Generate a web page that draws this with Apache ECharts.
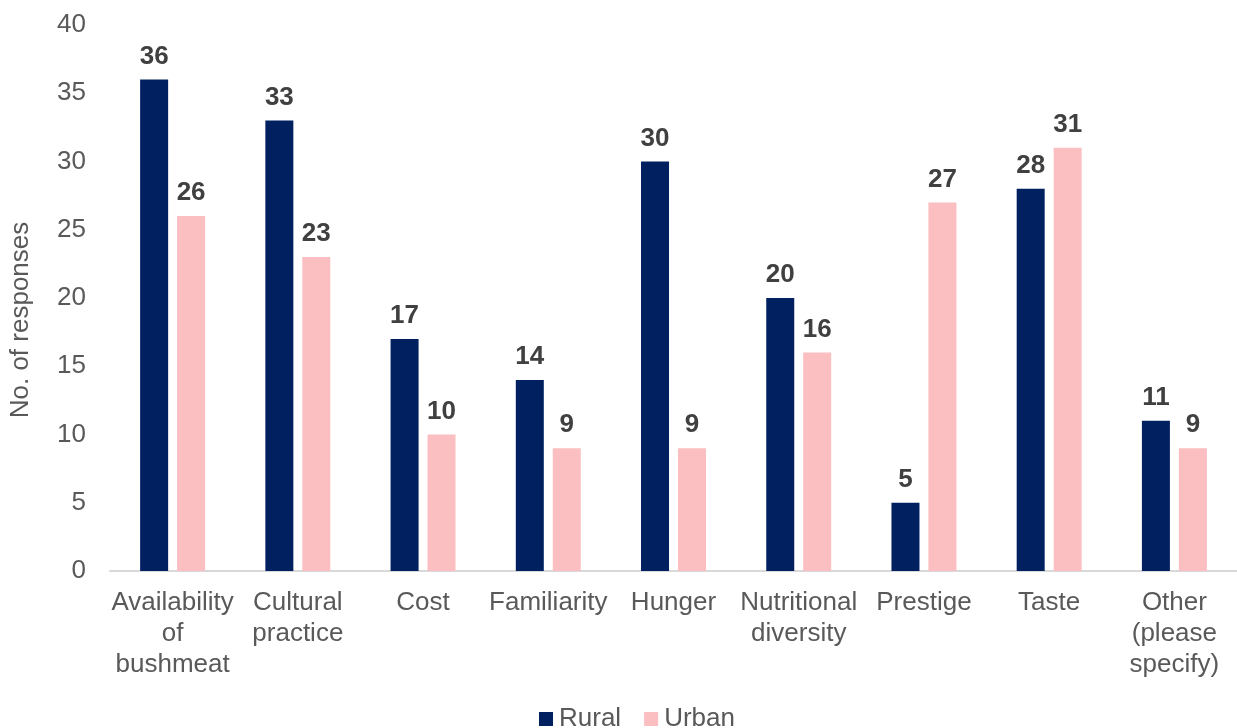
<!DOCTYPE html>
<html>
<head>
<meta charset="utf-8">
<script src="https://cdn.jsdelivr.net/npm/echarts@6/dist/echarts.min.js"></script>
<style>
html, body { margin: 0; padding: 0; background: #fff; }
#main { width: 1237px; height: 728px; }
</style>
</head>
<body>
<div id="main"></div>
<script>
var categories = ['Availability\nof\nbushmeat', 'Cultural\npractice', 'Cost', 'Familiarity', 'Hunger', 'Nutritional\ndiversity', 'Prestige', 'Taste', 'Other\n(please\nspecify)'];
var rural = [36, 33, 17, 14, 30, 20, 5, 28, 11];
var urban = [26, 23, 10, 9, 9, 16, 27, 31, 9];

var myChart = echarts.init(document.getElementById('main'));
var labelStyle = {
    show: true,
    position: 'top',
    distance: 10,
    color: '#404040',
    fontWeight: 'bold',
    fontSize: 26,
    fontFamily: 'Liberation Sans'
};
var option = {
    animation: false,
    textStyle: { fontFamily: 'Liberation Sans' },
    grid: { left: 110, right: 0, top: 25, bottom: 157 },
    legend: {
        bottom: -9,
        left: 534,
        itemWidth: 14,
        itemHeight: 14,
        itemGap: 23,
        icon: 'rect',
        textStyle: { color: '#595959', fontSize: 26, padding: [0, 0, 0, 1] },
        data: ['Rural', 'Urban']
    },
    xAxis: {
        type: 'category',
        data: categories,
        axisLine: { lineStyle: { color: '#d9d9d9', width: 2 } },
        axisTick: { show: false },
        axisLabel: { color: '#595959', fontSize: 26, lineHeight: 31, margin: 16, interval: 0 }
    },
    yAxis: {
        type: 'value',
        min: 0,
        max: 40,
        interval: 5,
        name: 'No. of responses',
        nameLocation: 'middle',
        nameGap: 76,
        nameTextStyle: { color: '#595959', fontSize: 26, padding: [0, 44, 0, 0] },
        splitLine: { show: false },
        axisLine: { show: false },
        axisTick: { show: false },
        axisLabel: { color: '#595959', fontSize: 26, margin: 24 }
    },
    series: [
        {
            name: 'Rural',
            type: 'bar',
            data: rural,
            barWidth: 28,
            barGap: '32%',
            itemStyle: { color: '#002060' },
            label: labelStyle
        },
        {
            name: 'Urban',
            type: 'bar',
            data: urban,
            barWidth: 28,
            itemStyle: { color: '#fbbec1' },
            label: labelStyle
        }
    ]
};
myChart.setOption(option);
</script>
</body>
</html>
